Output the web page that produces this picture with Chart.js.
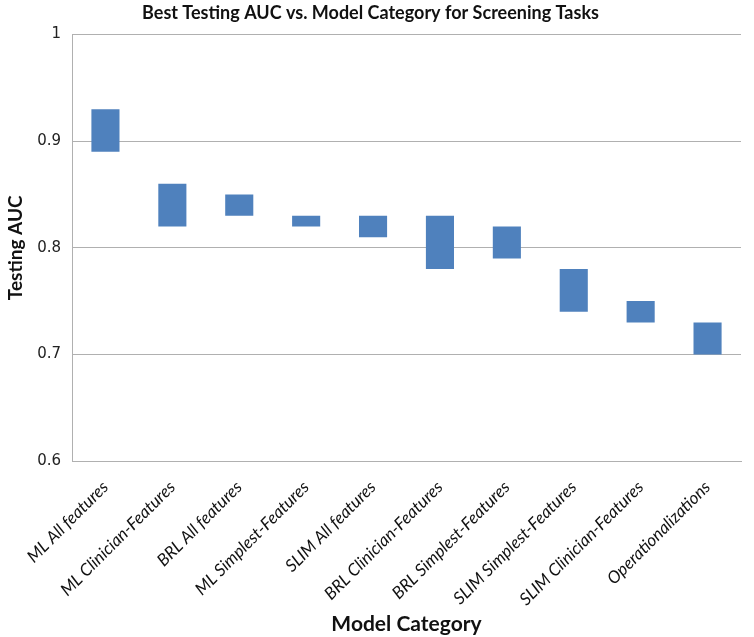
<!DOCTYPE html>
<html>
<head>
<meta charset="utf-8">
<script src="https://cdn.jsdelivr.net/npm/chart.js@4"></script>
<style>
  body { margin: 0; background: #fff; }
  #wrap { width: 754px; height: 637px; }
</style>
</head>
<body>
<div id="wrap"><canvas id="myChart" width="754" height="637"></canvas></div>
<script>
// categories and the low/high AUC of each floating bar
var categories = ["ML All features", "ML Clinician-Features", "BRL All features", "ML Simplest-Features",
  "SLIM All features", "BRL Clinician-Features", "BRL Simplest-Features", "SLIM Simplest-Features",
  "SLIM Clinician-Features", "Operationalizations"];
var lowAUC  = [0.89, 0.82, 0.83, 0.82, 0.81, 0.78, 0.79, 0.74, 0.73, 0.70];
var highAUC = [0.93, 0.86, 0.85, 0.83, 0.83, 0.83, 0.82, 0.78, 0.75, 0.73];
var yTicks = [0.6, 0.7, 0.8, 0.9, 1];

var ranges = categories.map(function (c, i) { return [lowAUC[i], highAUC[i]]; });

var ctx = "myChart";
var chart = new Chart(ctx, {
  type: 'bar',
  data: {
    labels: categories,
    datasets: [{
      label: "Testing AUC",
      data: ranges,
      backgroundColor: '#4f81bd',
      borderWidth: 0,
      borderSkipped: false,
      barPercentage: 0.84,
      categoryPercentage: 0.5
    }]
  },
  options: {
    responsive: false,
    animation: false,
    layout: { padding: { top: 0, right: 13, bottom: 0, left: 0 } },
    plugins: {
      legend: { display: false },
      tooltip: { enabled: false },
      title: {
        display: true,
        text: "Best Testing AUC vs. Model Category for Screening Tasks",
        color: '#111',
        font: { family: "Lato", size: 18, weight: 'bold' },
        padding: { top: 2, bottom: 11 }
      }
    },
    scales: {
      x: {
        grid: { display: false, drawTicks: false },
        border: { color: '#b0b0b0' },
        ticks: {
          minRotation: 45, maxRotation: 45,
          color: '#111',
          padding: 16,
          font: { family: "Lato", size: 17, style: 'italic' }
        },
        title: {
          display: true,
          text: "Model Category",
          color: '#111',
          font: { family: "Lato", size: 21, weight: 'bold' },
          padding: { top: 4, bottom: 0 }
        },
        afterFit: function (scale) { scale.height = 176; }
      },
      y: {
        min: 0.6, max: 1,
        afterBuildTicks: function (scale) {
          scale.ticks = yTicks.map(function (v) { return { value: v }; });
        },
        grid: { color: '#b0b0b0', lineWidth: 1, drawTicks: false },
        border: { color: '#b0b0b0' },
        ticks: {
          color: '#222',
          padding: 11,
          font: { family: "DejaVu Sans", size: 15 },
          callback: function (v) { return String(Math.round(v * 10) / 10); }
        },
        title: {
          display: true,
          text: "Testing AUC",
          color: '#111',
          font: { family: "Lato", size: 19, weight: 'bold' },
          padding: { top: 4, bottom: 6 }
        },
        afterFit: function (scale) { scale.width = 72; }
      }
    }
  }
});
</script>
</body>
</html>
